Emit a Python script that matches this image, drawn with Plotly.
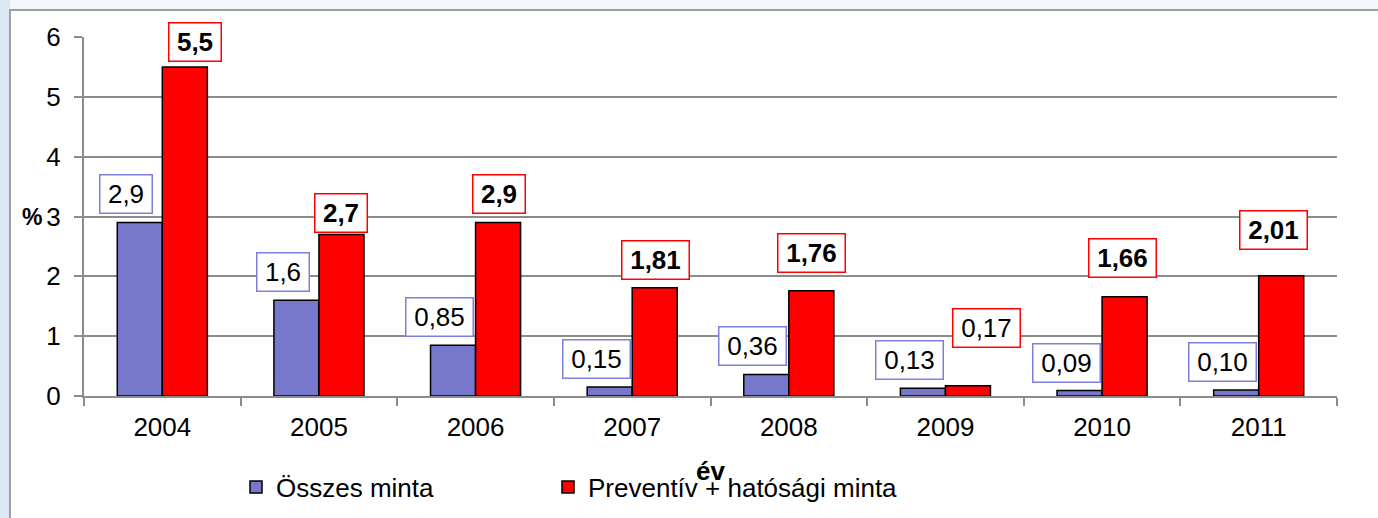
import plotly.graph_objects as go

# adatok
evek = ["2004", "2005", "2006", "2007", "2008", "2009", "2010", "2011"]
osszes = [2.9, 1.6, 0.85, 0.15, 0.36, 0.13, 0.09, 0.10]
preventiv = [5.5, 2.7, 2.9, 1.81, 1.76, 0.17, 1.66, 2.01]
osszes_cimke = ["2,9", "1,6", "0,85", "0,15", "0,36", "0,13", "0,09", "0,10"]
preventiv_cimke = ["5,5", "2,7", "2,9", "1,81", "1,76", "0,17", "1,66", "2,01"]

# a piros címkék kézzel tologatott helye (pixel)
piros_dx = [33, 22, 23, 23, 23, 41, 20, 15]
piros_dy = [25, 21, 28, 28, 38, 58, 39, 46]

W, H = 1378, 518
L, R, T, B = 84, 41, 37, 122
FONT = "Liberation Sans, Arial, sans-serif"
FS = 26
LILA = "#7777CC"
PIROS = "#FF0000"


def px_x(p):
    return (p - L) / (W - L - R)


def px_y(p):
    return (H - B - p) / (H - T - B)


fig = go.Figure()

fig.add_trace(go.Bar(
    x=evek, y=osszes, name="Összes minta", legend="legend",
    marker=dict(color=LILA, line=dict(color="black", width=1.5))
))
fig.add_trace(go.Bar(
    x=evek, y=preventiv, name="Preventív + hatósági minta", legend="legend2",
    marker=dict(color=PIROS, line=dict(color="black", width=1.5))
))

annotations = []
for i, ev in enumerate(evek):
    # kategória tengelyen az index kell, különben a '2004' számnak számít
    t = osszes_cimke[i]
    annotations.append(dict(
        x=i, y=osszes[i], xref="x", yref="y", text=t, showarrow=False,
        xshift=-36, yshift=28, xanchor="center", yanchor="middle",
        font=dict(family=FONT, size=FS, color="black"),
        bgcolor="white", bordercolor="#7F7FDD", borderwidth=1.5, borderpad=3,
        width=15 * len(t), height=31
    ))
    t = preventiv_cimke[i]
    szoveg = f"<b>{t}</b>" if preventiv[i] >= 1 else t
    annotations.append(dict(
        x=i, y=preventiv[i], xref="x", yref="y", text=szoveg, showarrow=False,
        xshift=piros_dx[i], yshift=piros_dy[i], xanchor="center", yanchor="middle",
        font=dict(family=FONT, size=FS, color="black"),
        bgcolor="white", bordercolor=PIROS, borderwidth=1.5, borderpad=3,
        width=15 * len(t), height=31
    ))

# tengelyfeliratok
annotations.append(dict(
    x=px_x(32), y=3, xref="paper", yref="y", text="<b>%</b>", showarrow=False,
    xanchor="center", yanchor="middle",
    font=dict(family=FONT, size=23, color="black")
))
annotations.append(dict(
    x=0.5, y=px_y(471), xref="paper", yref="paper", text="<b>év</b>",
    showarrow=False, xanchor="center", yanchor="middle",
    font=dict(family=FONT, size=FS, color="black")
))

shapes = [
    # bal oldali kék sáv
    dict(type="rect", xref="paper", yref="paper", layer="below",
         x0=px_x(-2), x1=px_x(10), y0=px_y(H + 5), y1=px_y(-5),
         fillcolor="#DCE7F4", line=dict(width=0)),
    # fehér keret
    dict(type="rect", xref="paper", yref="paper", layer="below",
         x0=px_x(10), x1=px_x(W + 10), y0=px_y(H + 10), y1=px_y(10),
         fillcolor="white", line=dict(color="#A0A0A0", width=2)),
]

jelmagyarazat = dict(
    orientation="h", y=px_y(487), xanchor="left", yanchor="middle",
    itemwidth=30, font=dict(family=FONT, size=FS, color="black"),
    bgcolor="rgba(0,0,0,0)"
)

fig.update_layout(
    width=W, height=H,
    margin=dict(l=L, r=R, t=T, b=B, autoexpand=False),
    paper_bgcolor="#F3F6FA",
    plot_bgcolor="rgba(0,0,0,0)",
    font=dict(family=FONT, size=FS, color="black"),
    barmode="group",
    bargap=0.425,
    bargroupgap=0,
    showlegend=True,
    legend=dict(jelmagyarazat, x=px_x(236)),
    legend2=dict(jelmagyarazat, x=px_x(548)),
    annotations=annotations,
    shapes=shapes,
)

fig.update_xaxes(
    type="category", range=[-0.5, len(evek) - 0.5],
    showline=True, linecolor="#8C8C8C", linewidth=2,
    ticks="outside", tickson="boundaries", ticklen=8, tickcolor="#8C8C8C", tickwidth=2,
    showgrid=False, ticklabelstandoff=7, tickangle=0,
    tickfont=dict(family=FONT, size=FS, color="black")
)
fig.update_yaxes(
    range=[0, 6], dtick=1,
    showline=True, linecolor="#8C8C8C", linewidth=2,
    ticks="outside", ticklen=8, tickcolor="#8C8C8C", tickwidth=2,
    showgrid=True, gridcolor="#8C8C8C", gridwidth=2,
    zeroline=False, ticklabelstandoff=8,
    tickfont=dict(family=FONT, size=FS, color="black")
)

# a lap alapértelmezett 8 px-es margóját levesszük
fig.write_html(
    "out.html",
    config={"displayModeBar": False},
    post_script="document.body.style.margin='0';",
)
